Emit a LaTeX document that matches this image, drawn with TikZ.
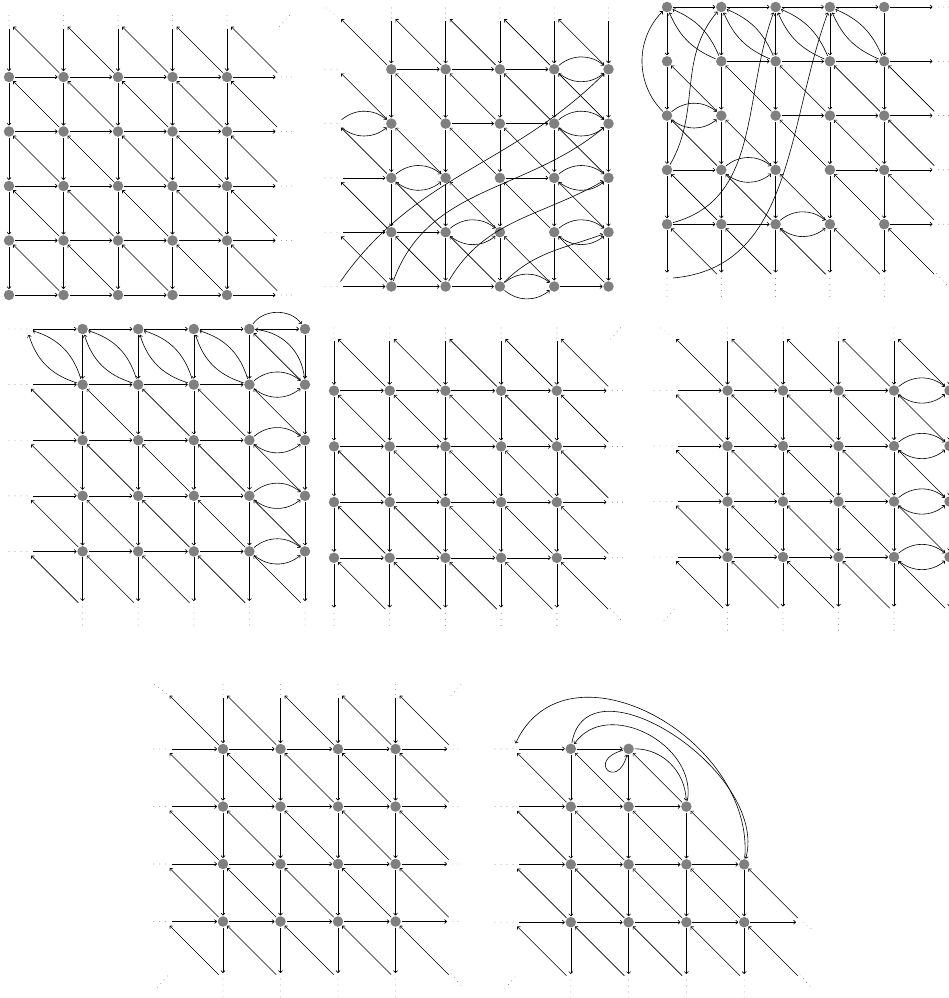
\documentclass[tikz,border=0pt]{standalone}
\usetikzlibrary{arrows.meta}
\definecolor{nodegray}{RGB}{128,128,128}
\definecolor{dotgray}{RGB}{120,120,120}
\tikzset{
  v/.style={circle,fill=nodegray,inner sep=0pt,minimum size=10.5pt,outer sep=0.8pt},
  ph/.style={circle,inner sep=0pt,minimum size=10.5pt,outer sep=0.8pt},
  ar/.style={-{To[length=2.6pt,width=4.4pt]},line width=0.6pt},
  dotlong/.style={dotgray,line width=0.9pt,line cap=round,dash pattern=on 0pt off 6pt},
  dotshort/.style={dotgray,line width=0.9pt,line cap=round,dash pattern=on 0pt off 5pt},
}
\newcommand\pdL[1]{\draw[dotlong] (#1.center) -- ([xshift=-18pt]#1.center);}
\newcommand\pdR[1]{\draw[dotshort] (#1.center) -- ([xshift=10pt]#1.center);}
\newcommand\pdT[1]{\draw[dotshort] ([yshift=-3pt]#1.center) -- ([yshift=7pt]#1.center);}
\newcommand\pdB[1]{\draw[dotlong] (#1.center) -- ([yshift=-18pt]#1.center);}
\newcommand\pcTL[1]{\draw[dotshort] ([shift={(1pt,-2pt)}]#1.center) -- ([shift={(-11pt,7pt)}]#1.center);}
\newcommand\pcTR[1]{\draw[dotshort] ([shift={(-2pt,-4pt)}]#1.center) -- ([shift={(8pt,7.2pt)}]#1.center);}
\newcommand\pcBL[1]{\draw[dotshort] ([shift={(2pt,3pt)}]#1.center) -- ([shift={(-8pt,-8.2pt)}]#1.center);}
\newcommand\pcBR[1]{\draw[dotshort] ([shift={(-2pt,5pt)}]#1.center) -- ([shift={(8pt,-6.2pt)}]#1.center);}
\begin{document}
\begin{tikzpicture}
\useasboundingbox (0,0) rectangle (949pt,-998pt);

% ================= Panel a (top left)
\begin{scope}[shift={(9pt,-22.5pt)},x=54.5pt,y=54.5pt]
\foreach \i in {0,...,4}{\foreach \j in {1,...,5}{\node[v] (a\i\j) at (\i,-\j) {};}}
\foreach \i in {0,...,5}{\node[ph] (a\i0) at (\i,0) {};}
\foreach \j in {1,...,5}{\node[ph] (a5\j) at (5,-\j) {};}
\foreach \i in {0,...,4}{\foreach \j in {0,...,4}{
  \pgfmathtruncatemacro\ii{\i+1}\pgfmathtruncatemacro\jj{\j+1}
  \draw[ar] (a\i\jj) -- (a\ii\jj);
  \draw[ar] (a\i\j) -- (a\i\jj);
  \draw[ar] (a\ii\jj) -- (a\i\j);
}}
\foreach \i in {0,...,4}{\pdT{a\i0}}
\foreach \j in {1,...,5}{\pdR{a5\j}}
\pcTR{a50}
\end{scope}

% ================= Panel b (top middle)
\begin{scope}[shift={(337pt,-15pt)},x=54.3pt,y=54.3pt]
\foreach \i in {1,...,5}{\foreach \j in {1,...,5}{\node[v] (b\i\j) at (\i,-\j) {};}}
\foreach \j in {0,...,5}{\node[ph] (b0\j) at (0,-\j) {};}
\foreach \i in {1,...,5}{\node[ph] (b\i0) at (\i,0) {};}
\foreach \i in {0,...,4}{\foreach \j in {0,...,4}{
  \pgfmathtruncatemacro\ii{\i+1}\pgfmathtruncatemacro\jj{\j+1}
  \draw[ar] (b\ii\j) -- (b\ii\jj);
  \draw[ar] (b\ii\jj) -- (b\i\j);
}}
\foreach \a/\b in {11/21,21/31,31/41,22/32,32/42,03/13,33/43,04/14,14/24,05/15,15/25,25/35,45/55}{\draw[ar] (b\a) -- (b\b);}
\foreach \a/\b in {41/51,02/12,42/52,13/23,43/53,24/34,44/54,35/45}{
  \draw[ar] (b\a) to[bend left=40] (b\b);
  \draw[ar] (b\a) to[bend right=40] (b\b);}
\draw[ar] (b05) to[out=55,in=225] (b51);
\draw[ar] (b15) to[out=70,in=220] (b52);
\draw[ar] (b25) to[out=60,in=210] (b53);
\draw[ar] (b35) to[out=45,in=200] (b54);
\foreach \j in {1,...,5}{\pdL{b0\j}}
\foreach \i in {1,...,5}{\pdT{b\i0}}
\pcTL{b00}
\end{scope}

% ================= Panel c (top right)
\begin{scope}[shift={(667pt,-7pt)},x=54.3pt,y=54.3pt]
\foreach \i in {0,...,4}{\foreach \j in {0,...,4}{\node[v] (c\i\j) at (\i,-\j) {};}}
\foreach \j in {0,...,5}{\node[ph] (c5\j) at (5,-\j) {};}
\foreach \i in {0,...,4}{\node[ph] (c\i5) at (\i,-5) {};}
\foreach \i in {0,...,4}{\foreach \j in {0,...,4}{
  \pgfmathtruncatemacro\jj{\j+1}
  \draw[ar] (c\i\j) -- (c\i\jj);
}}
\foreach \i in {0,...,4}{\foreach \j in {1,...,4}{
  \pgfmathtruncatemacro\ii{\i+1}\pgfmathtruncatemacro\jj{\j+1}
  \draw[ar] (c\ii\jj) -- (c\i\j);
}}
\foreach \i in {0,...,3}{
  \pgfmathtruncatemacro\ii{\i+1}
  \draw[ar] (c\ii1) to[bend left=22] (c\i0);
  \draw[ar] (c\ii1) to[bend right=22] (c\i0);}
\foreach \a/\b in {00/10,10/20,20/30,30/40,40/50,11/21,21/31,31/41,41/51,22/32,32/42,42/52,03/13,33/43,43/53,04/14,14/24,44/54}{\draw[ar] (c\a) -- (c\b);}
\foreach \a/\b in {02/12,13/23,24/34}{
  \draw[ar] (c\a) to[bend left=40] (c\b);
  \draw[ar] (c\a) to[bend right=40] (c\b);}
\draw[ar] (c02) to[out=135,in=225] (c00);
\draw[ar] (c03) to[out=60,in=230] (c10);
\draw[ar] (c04) to[out=15,in=250] (c20);
\draw[ar] (c05) to[out=5,in=250] (c30);
\foreach \j in {0,...,4}{\pdR{c5\j}}
\foreach \i in {0,...,4}{\pdB{c\i5}}
\pcBR{c55}
\end{scope}

% ================= Panel d (middle left)
\begin{scope}[shift={(27pt,-329pt)},x=55.6pt,y=55.6pt]
\foreach \i in {1,...,5}{\foreach \j in {0,...,4}{\node[v] (d\i\j) at (\i,-\j) {};}}
\foreach \j in {0,...,5}{\node[ph] (d0\j) at (0,-\j) {};}
\foreach \i in {1,...,5}{\node[ph] (d\i5) at (\i,-5) {};}
\foreach \i in {1,...,5}{\foreach \j in {0,...,4}{
  \pgfmathtruncatemacro\jj{\j+1}
  \draw[ar] (d\i\j) -- (d\i\jj);
}}
\foreach \i in {0,...,3}{\foreach \j in {0,...,4}{
  \pgfmathtruncatemacro\ii{\i+1}
  \draw[ar] (d\i\j) -- (d\ii\j);
}}
\foreach \i in {0,...,4}{\foreach \j in {1,...,4}{
  \pgfmathtruncatemacro\ii{\i+1}\pgfmathtruncatemacro\jj{\j+1}
  \draw[ar] (d\ii\jj) -- (d\i\j);
}}
\foreach \i in {0,...,3}{
  \pgfmathtruncatemacro\ii{\i+1}
  \draw[ar] (d\ii1) to[bend left=28] (d\i0);
  \draw[ar] (d\ii1) to[bend right=28] (d\i0);}
\draw[ar] (d51) -- (d40);
\draw[ar] (d51) to[bend right=40] (d40);
\draw[ar] (d40) -- (d50);
\draw[ar] (d40) to[bend left=55] (d50);
\foreach \j in {1,...,4}{
  \draw[ar] (d4\j) to[bend left=40] (d5\j);
  \draw[ar] (d4\j) to[bend right=40] (d5\j);}
\foreach \j in {0,...,4}{\pdL{d0\j}}
\foreach \i in {1,...,5}{\pdB{d\i5}}
\end{scope}

% ================= Panel e (middle centre)
\begin{scope}[shift={(334pt,-335pt)},x=55.7pt,y=55.7pt]
\foreach \i in {0,...,4}{\foreach \j in {1,...,4}{\node[v] (e\i\j) at (\i,-\j) {};}}
\foreach \i in {0,...,5}{\node[ph] (e\i0) at (\i,0) {};\node[ph] (e\i5) at (\i,-5) {};}
\foreach \j in {1,...,4}{\node[ph] (e5\j) at (5,-\j) {};}
\foreach \i in {0,...,4}{\foreach \j in {0,...,4}{
  \pgfmathtruncatemacro\ii{\i+1}\pgfmathtruncatemacro\jj{\j+1}
  \draw[ar] (e\i\j) -- (e\i\jj);
  \draw[ar] (e\ii\jj) -- (e\i\j);
}}
\foreach \i in {0,...,4}{\foreach \j in {1,...,4}{
  \pgfmathtruncatemacro\ii{\i+1}
  \draw[ar] (e\i\j) -- (e\ii\j);
}}
\foreach \i in {0,...,4}{\pdT{e\i0}\pdB{e\i5}}
\foreach \j in {1,...,4}{\pdR{e5\j}}
\pcTR{e50}
\pcBR{e55}
\end{scope}

% ================= Panel f (middle right)
\begin{scope}[shift={(672pt,-335pt)},x=55.5pt,y=55.5pt]
\foreach \i in {1,...,5}{\foreach \j in {1,...,4}{\node[v] (f\i\j) at (\i,-\j) {};}}
\foreach \j in {0,...,5}{\node[ph] (f0\j) at (0,-\j) {};}
\foreach \i in {1,...,5}{\node[ph] (f\i0) at (\i,0) {};\node[ph] (f\i5) at (\i,-5) {};}
\foreach \i in {0,...,4}{\foreach \j in {0,...,4}{
  \pgfmathtruncatemacro\ii{\i+1}\pgfmathtruncatemacro\jj{\j+1}
  \draw[ar] (f\ii\j) -- (f\ii\jj);
  \draw[ar] (f\ii\jj) -- (f\i\j);
}}
\foreach \i in {0,...,3}{\foreach \j in {1,...,4}{
  \pgfmathtruncatemacro\ii{\i+1}
  \draw[ar] (f\i\j) -- (f\ii\j);
}}
\foreach \j in {1,...,4}{
  \draw[ar] (f4\j) to[bend left=40] (f5\j);
  \draw[ar] (f4\j) to[bend right=40] (f5\j);}
\foreach \j in {1,...,4}{\pdL{f0\j}}
\foreach \i in {1,...,5}{\pdT{f\i0}\pdB{f\i5}}
\pcTL{f00}
\pcBL{f05}
\end{scope}

% ================= Panel g (bottom left)
\begin{scope}[shift={(165.5pt,-691.5pt)},x=57.5pt,y=57.5pt]
\foreach \i in {1,...,4}{\foreach \j in {1,...,4}{\node[v] (g\i\j) at (\i,-\j) {};}}
\foreach \i in {0,...,5}{\node[ph] (g\i0) at (\i,0) {};\node[ph] (g\i5) at (\i,-5) {};}
\foreach \j in {1,...,4}{\node[ph] (g0\j) at (0,-\j) {};\node[ph] (g5\j) at (5,-\j) {};}
\foreach \i in {0,...,4}{\foreach \j in {0,...,4}{
  \pgfmathtruncatemacro\ii{\i+1}\pgfmathtruncatemacro\jj{\j+1}
  \draw[ar] (g\ii\jj) -- (g\i\j);
}}
\foreach \i in {1,...,4}{\foreach \j in {0,...,4}{
  \pgfmathtruncatemacro\jj{\j+1}
  \draw[ar] (g\i\j) -- (g\i\jj);
}}
\foreach \i in {0,...,4}{\foreach \j in {1,...,4}{
  \pgfmathtruncatemacro\ii{\i+1}
  \draw[ar] (g\i\j) -- (g\ii\j);
}}
\foreach \j in {1,...,4}{\pdL{g0\j}\pdR{g5\j}}
\foreach \i in {1,...,4}{\pdT{g\i0}\pdB{g\i5}}
\pcTL{g00}\pcTR{g50}\pcBL{g05}\pcBR{g55}
\end{scope}

% ================= Panel h (bottom right)
\begin{scope}[shift={(513pt,-691pt)},x=57.8pt,y=57.8pt]
\foreach \p in {11,21,12,22,32,13,23,33,43,14,24,34,44}{
  \pgfmathtruncatemacro\pi{int(\p/10)}\pgfmathtruncatemacro\pj{\p-10*int(\p/10)}
  \node[v] (h\p) at (\pi,-\pj) {};}
\foreach \p in {01,02,03,04,05,15,25,35,45,55,54}{
  \pgfmathtruncatemacro\pi{int(\p/10)}\pgfmathtruncatemacro\pj{\p-10*int(\p/10)}
  \node[ph] (h\p) at (\pi,-\pj) {};}
\foreach \a/\b in {01/11,11/21,02/12,12/22,22/32,03/13,13/23,23/33,33/43,04/14,14/24,24/34,34/44,44/54,
  11/12,12/13,13/14,14/15,21/22,22/23,23/24,24/25,32/33,33/34,34/35,43/44,44/45,
  12/01,22/11,32/21,13/02,23/12,33/22,43/32,14/03,24/13,34/23,44/33,54/43,15/04,25/14,35/24,45/34,55/44}{
  \draw[ar] (h\a) -- (h\b);}
\draw[ar] (h21) to[out=195,in=255,min distance=38pt] (h21);
\draw[ar] (h21) to[out=0,in=92] (h32);
\draw[ar] (h32) to[out=80,in=55,looseness=1.15] (h11);
\draw[ar] (h11) to[out=80,in=75,looseness=1.1] (h43);
\draw[ar] (h43) to[out=85,in=65,looseness=1.2] (h01);
\foreach \j in {1,...,4}{\pdL{h0\j}}
\foreach \i in {1,...,4}{\pdB{h\i5}}
\draw[dotshort] ([shift={(1pt,0pt)}]h54.center) -- ([shift={(10pt,-7pt)}]h54.center);
\pcBR{h55}
\pcBL{h05}
\end{scope}
\end{tikzpicture}
\end{document}
